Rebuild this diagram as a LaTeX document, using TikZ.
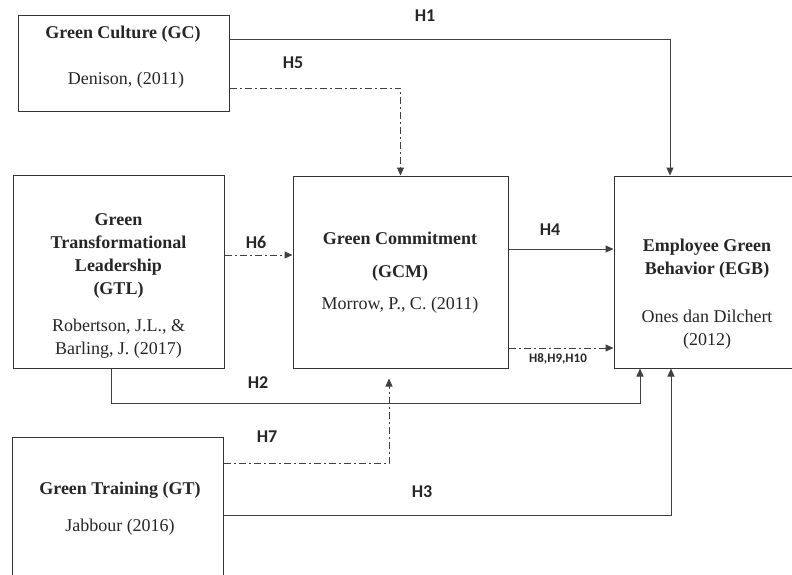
\documentclass[tikz,border=0pt]{standalone}
\usepackage{fontspec}
\setmainfont{Liberation Serif}
\newfontfamily\hypfont{Carlito}
\usetikzlibrary{arrows.meta,calc}

\begin{document}
\begin{tikzpicture}[x=1pt,y=-1pt,
  varbox/.style={rectangle, draw=black!80, line width=1pt},
  vartext/.style={align=center, font=\fontsize{18}{23}\selectfont, text=black!85},
  hyp/.style={font=\hypfont\bfseries\fontsize{18}{20}\selectfont, text=black!85},
  direct/.style={draw=black!75, line width=1pt, -{Triangle[length=8pt,width=7pt]}},
  mediated/.style={direct, dash pattern=on 7pt off 3pt on 2pt off 3pt}]
\clip (0,0) rectangle (792,574);

\node[varbox, minimum width=211pt, minimum height=96pt] (gc) at (123.5,63) {};
\node[varbox, minimum width=211pt, minimum height=193pt] (gtl) at (118.5,271.5) {};
\node[varbox, minimum width=215pt, minimum height=192pt] (gcm) at (400.5,272) {};
\node[varbox, minimum width=186pt, minimum height=192pt] (egb) at (707,272) {};
\node[varbox, minimum width=211pt, minimum height=153pt] (gt) at (117.5,513.5) {};

\node[vartext] (gcname) at (123,34) {\textbf{Green Culture (GC)}};
\node[vartext] (gcref) at (126,80) {Denison, (2011)};
\node[vartext] (gtlname) at (118.5,255.5) {\textbf{Green}\\\textbf{Transformational}\\\textbf{Leadership}\\\textbf{(GTL)}};
\node[vartext] (gtlref) at (118.5,339) {Robertson, J.L., \&\\Barling, J. (2017)};
\node[vartext] (gcmname) at (400,256.5) {\textbf{Green Commitment}\\[10pt]\textbf{(GCM)}};
\node[vartext] (gcmref) at (400,305) {Morrow, P., C. (2011)};
\node[vartext] (egbname) at (707,259) {\textbf{Employee Green}\\\textbf{Behavior (EGB)}};
\node[vartext] (egbref) at (707,330) {Ones dan Dilchert\\(2012)};
\node[vartext] (gtname) at (120,490) {\textbf{Green Training (GT)}};
\node[vartext] (gtref) at (120,527) {Jabbour (2016)};

\node[hyp] (h1) at (425,16) {H1};
\node[hyp] (h5) at (293,63) {H5};
\node[hyp] (h6) at (256,242) {H6};
\node[hyp] (h4) at (550,230) {H4};
\node[hyp, font=\hypfont\bfseries\fontsize{13}{15}\selectfont] (h8) at (558,359) {H8,H9,H10};
\node[hyp] (h2) at (258,383) {H2};
\node[hyp] (h7) at (267,437) {H7};
\node[hyp] (h3) at (422,492) {H3};

\draw[direct] ([yshift=24pt]gc.east) -| ([xshift=-37pt]egb.north);
\draw[mediated] ([yshift=-25pt]gc.east) -| (gcm.north);
\draw[mediated] ([yshift=16.5pt]gtl.east) -- ([yshift=17pt]gcm.west);
\draw[direct] ([yshift=23pt]gcm.east) -- ([yshift=23pt]egb.west);
\draw[mediated] ([yshift=-76pt]gcm.east) -- ([yshift=-76pt]egb.west);
\draw[direct] ([xshift=-7.5pt]gtl.south) -- ++(0,35) -| ([xshift=-67pt]egb.south);
\draw[mediated, shorten >=10pt] ([yshift=50.5pt]gt.east) -| ([xshift=-11.5pt]gcm.south);
\draw[direct] ([yshift=-1.5pt]gt.east) -| ([xshift=-36pt]egb.south);
\end{tikzpicture}
\end{document}
